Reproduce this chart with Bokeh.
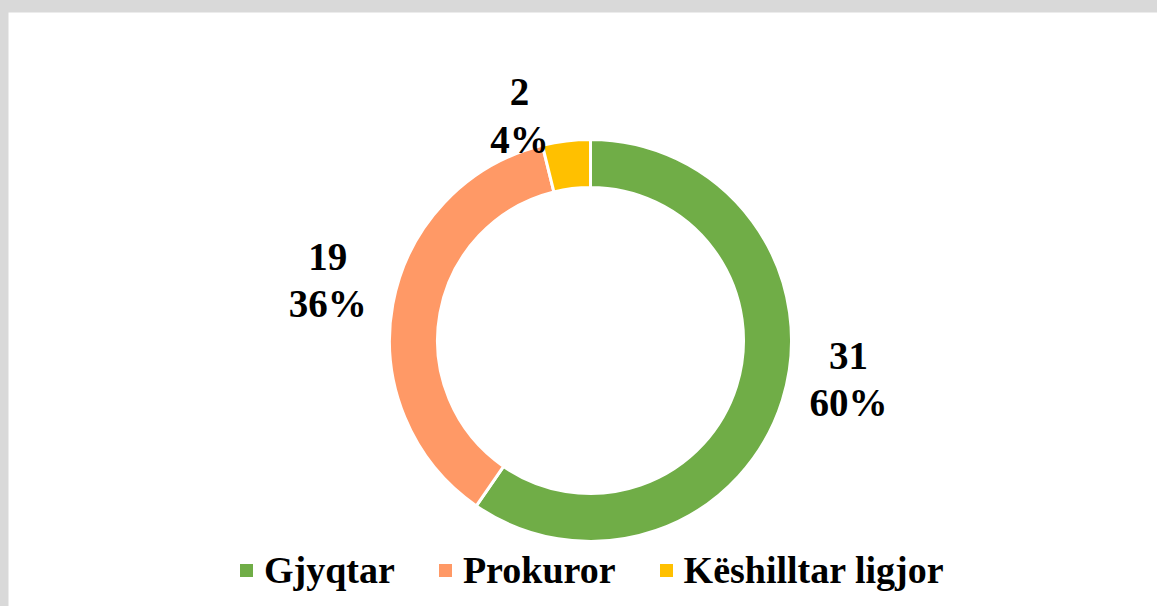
import math
from bokeh.plotting import figure
from bokeh.models import ColumnDataSource, Range1d
from bokeh.core.properties import value
from bokeh.embed import file_html
from bokeh.resources import INLINE

# ---- data ----
categories = ["Gjyqtar", "Prokuror", "Këshilltar ligjor"]
counts = [31, 19, 2]
percent_labels = ["60%", "36%", "4%"]
colors = ["#70ad47", "#ff9966", "#ffc000"]

# ---- geometry / style ----
W, H = 1157, 606
TOP, LEFT = 12, 8
FW, FH = W - LEFT, H - TOP
cx, cy = 582, 266
r_in, r_out = 153, 201
label_r = 265
label_nudge = [(5, 40), (-2, 13), (-39, -38)]
FONT = "Liberation Serif"

total = sum(counts)
starts, ends, lx, ly, texts = [], [], [], [], []
cum = 0
for i, c in enumerate(counts):
    a0 = math.pi / 2 - 2 * math.pi * cum / total
    a1 = math.pi / 2 - 2 * math.pi * (cum + c) / total
    starts.append(a0)
    ends.append(a1)
    mid = (a0 + a1) / 2
    lx.append(cx + label_r * math.cos(mid) + label_nudge[i][0])
    ly.append(cy + label_r * math.sin(mid) + label_nudge[i][1])
    texts.append(f"{c}\n{percent_labels[i]}")
    cum += c

src = ColumnDataSource(dict(cat=categories, start=starts, end=ends, color=colors))
lsrc = ColumnDataSource(dict(x=lx, y=ly, t=texts))

p = figure(width=W, height=H, output_backend="svg", toolbar_location=None,
           x_axis_type=None, y_axis_type=None,
           x_range=Range1d(0, FW), y_range=Range1d(0, FH),
           min_border_left=LEFT, min_border_right=0, min_border_bottom=0, min_border_top=TOP,
           border_fill_color="#d9d9d9", background_fill_color="white",
           outline_line_color=None)
p.grid.visible = False

p.annular_wedge(x=cx, y=cy, inner_radius=r_in, outer_radius=r_out,
                start_angle="start", end_angle="end", direction="clock",
                fill_color="color", line_color="white", line_width=3,
                legend_field="cat", source=src)

p.text(x="x", y="y", text="t", source=lsrc, text_align="center",
       text_baseline="middle", text_font=value(FONT), text_font_style="bold",
       text_font_size="39px", text_color="black", text_line_height=1.1)

lg = p.legend[0]
lg.location = (228, 14)
lg.orientation = "horizontal"
lg.border_line_color = None
lg.background_fill_alpha = 0
lg.label_text_font = FONT
lg.label_text_font_style = "bold"
lg.label_text_font_size = "38px"
lg.label_text_color = "black"
lg.glyph_width = 20
lg.glyph_height = 20
lg.label_standoff = 8
lg.spacing = 40
lg.padding = 10

html = file_html(p, INLINE)
html = html.replace("</head>", "<style>html,body{background:#d9d9d9;margin:0;overflow:hidden;}</style></head>", 1)
open("out.html", "w").write(html)
